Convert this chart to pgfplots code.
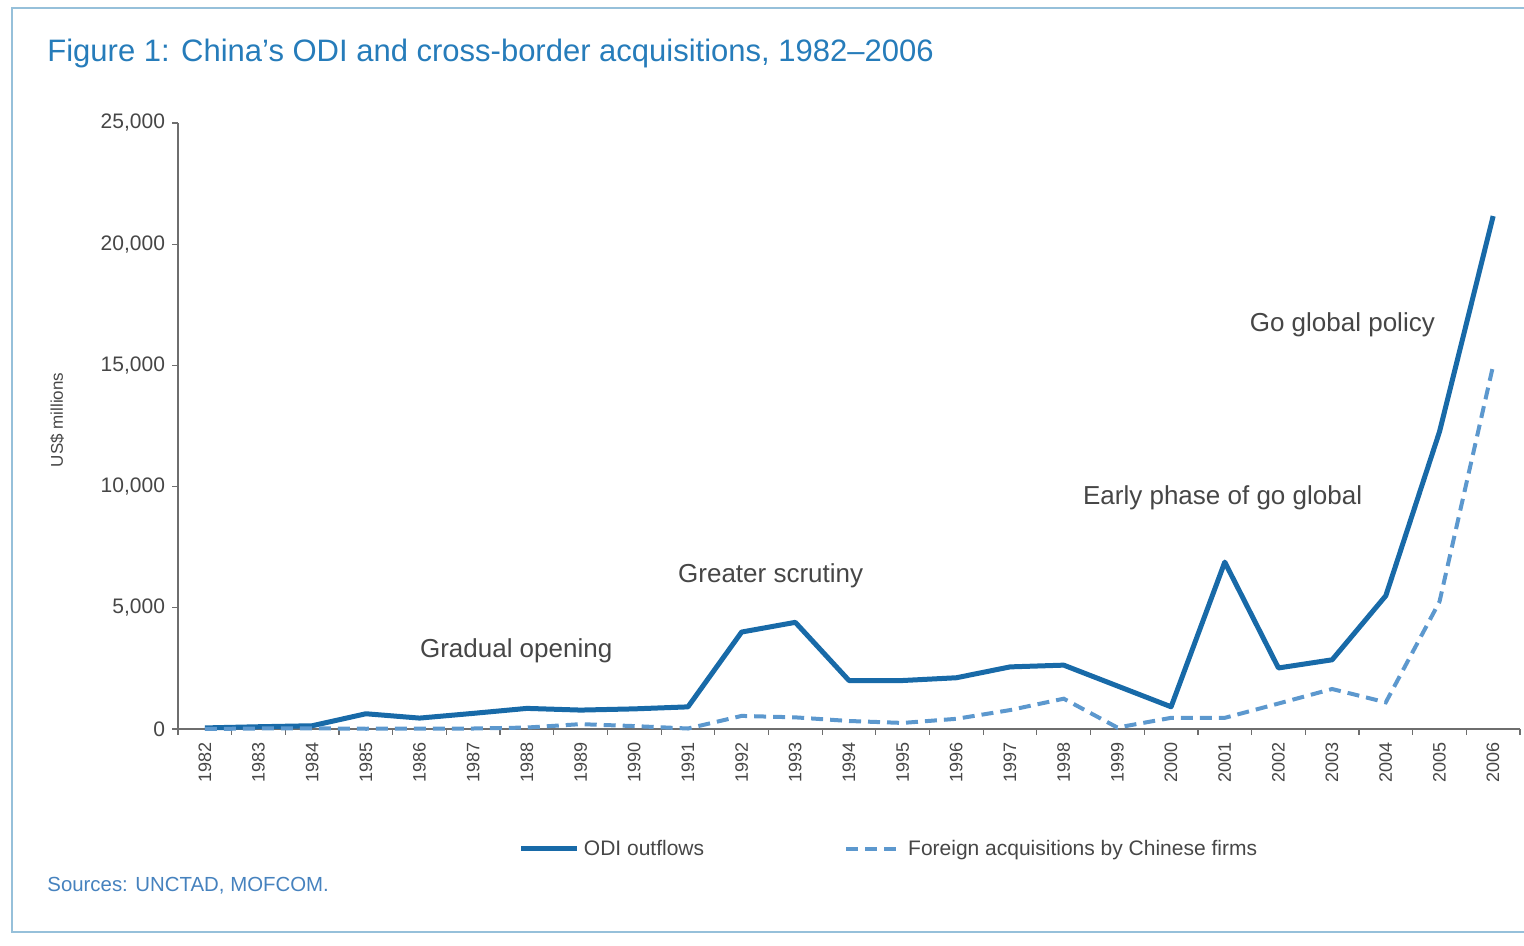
\documentclass[border=0pt]{standalone}
\usepackage{fontspec}
\setmainfont{Liberation Sans}
\usepackage{pgfplots}
\pgfplotsset{compat=1.18}
\definecolor{odi}{RGB}{24,106,168}
\definecolor{acq}{RGB}{92,152,206}
\definecolor{ttl}{RGB}{38,124,186}
\definecolor{src}{RGB}{70,130,190}
\definecolor{frm}{RGB}{150,192,218}
\definecolor{txt}{RGB}{70,70,70}
\definecolor{axc}{RGB}{110,110,110}
\begin{document}
\begin{tikzpicture}
\useasboundingbox (0,0) rectangle (762pt,473pt);
\draw[frm, line width=1.2pt] (770pt,469pt) -- (6pt,469pt) -- (6pt,7pt) -- (770pt,7pt);
\node[anchor=base west, text=ttl, font=\fontsize{15.5}{17}\selectfont, inner sep=0pt] at (23.5pt,442pt) {Figure 1: China's ODI and cross-border acquisitions, 1982--2006};
\node[anchor=base west, text=src, font=\fontsize{10.2}{12}\selectfont, inner sep=0pt] at (23.5pt,27pt) {Sources: UNCTAD, MOFCOM.};
\begin{axis}[
  at={(89pt,108.5pt)}, anchor=south west,
  width=671pt, height=303pt, scale only axis,
  xmin=1981.5, xmax=2006.5, ymin=0, ymax=25000,
  axis x line=bottom, axis y line=left,
  axis line style={-, axc, line width=0.8pt},
  clip=false,
  xtick={1982,...,2006},
  minor xtick={1981.5,1982.5,...,2006.5},
  major x tick style={draw=none},
  minor x tick style={axc, line width=0.6pt},
  ytick={0,5000,...,25000},
  y tick style={axc, line width=0.6pt},
  tick align=outside,
  major tick length=3pt, minor tick length=3pt,
  scaled y ticks=false,
  /pgf/number format/assume math mode=true,
  x tick label style={/pgf/number format/1000 sep={}, rotate=90, anchor=east, font=\fontsize{9}{10}\selectfont, text=txt},
  y tick label style={/pgf/number format/1000 sep={,}, font=\fontsize{10.5}{12}\selectfont, text=txt},
  ylabel={US\$ millions},
  ylabel style={at={(axis description cs:-0.09,0.51)}, anchor=center, font=\fontsize{8.5}{10}\selectfont, text=txt},
  legend style={at={(axis description cs:0.5306,-0.198)}, anchor=center, draw=none, fill=none,
    font=\fontsize{10.5}{12}\selectfont, text=txt,
    /tikz/every even column/.append style={column sep=68pt}},
  legend columns=2,
  legend image code/.code={\draw[#1] (0pt,0pt) -- (28pt,0pt);},
]
\addplot[odi, line width=2.5pt, line join=round] coordinates {
(1982,44) (1983,93) (1984,134) (1985,629) (1986,450) (1987,645) (1988,850) (1989,780)
(1990,830) (1991,913) (1992,4000) (1993,4400) (1994,2000) (1995,2000) (1996,2114)
(1997,2562) (1998,2634) (1999,1775) (2000,916) (2001,6885) (2002,2518) (2003,2855)
(2004,5498) (2005,12261) (2006,21160)};
\addlegendentry{ODI outflows}
\addplot[acq, line width=2pt, dash pattern=on 6pt off 3.5pt] coordinates {
(1982,0) (1983,20) (1984,30) (1985,10) (1986,20) (1987,20) (1988,60) (1989,200)
(1990,120) (1991,20) (1992,540) (1993,480) (1994,330) (1995,250) (1996,420)
(1997,780) (1998,1250) (1999,60) (2000,460) (2001,460) (2002,1050) (2003,1650)
(2004,1100) (2005,5250) (2006,15000)};
\addlegendentry{Foreign acquisitions by Chinese firms}
\node[font=\fontsize{13}{15}\selectfont, text=txt] at (axis cs:1987.8,3220) {Gradual opening};
\node[font=\fontsize{13}{15}\selectfont, text=txt] at (axis cs:1992.54,6310) {Greater scrutiny};
\node[font=\fontsize{13}{15}\selectfont, text=txt] at (axis cs:2000.96,9530) {Early phase of go global};
\node[font=\fontsize{13}{15}\selectfont, text=txt] at (axis cs:2003.19,16670) {Go global policy};
\end{axis}
\end{tikzpicture}
\end{document}
